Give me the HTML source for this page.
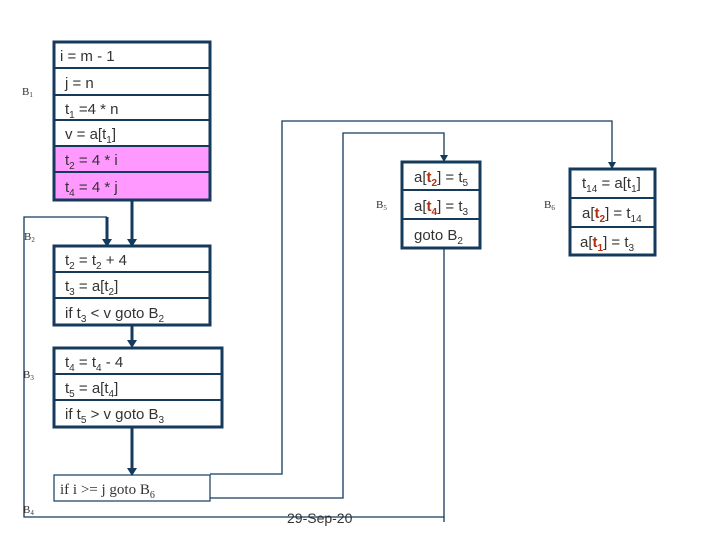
<!DOCTYPE html>
<html><head><style>
body{margin:0;background:#fff;}
svg text{font-family:"Liberation Sans",Arial,sans-serif;fill:#333;}
.s{font-family:"Liberation Serif",serif !important;}
</style></head><body>
<svg width="720" height="540" xmlns="http://www.w3.org/2000/svg">
<defs><marker id="a" markerWidth="8" markerHeight="8" refX="4" refY="7" orient="auto" markerUnits="userSpaceOnUse"><path d="M0,0 L8,0 L4,8 z" fill="#143a5c" transform="rotate(-90 4 4)"/></marker></defs>
<g fill="none" stroke="#143a5c">
<!-- B1 -->
<rect x="146" y="0" width="0" height="0"/>
<rect x="54" y="146" width="156" height="54" fill="#ff99ff" stroke="none"/>
<rect x="54" y="42" width="156" height="158" stroke-width="3"/>
<path d="M54 68H210M54 95H210M54 120H210M54 146H210M54 172H210" stroke-width="2"/>
<!-- B2 -->
<rect x="54" y="246" width="156" height="79" stroke-width="3"/>
<path d="M54 272H210M54 298H210" stroke-width="2"/>
<!-- B3 -->
<rect x="54" y="348" width="168" height="79" stroke-width="3"/>
<path d="M54 374H222M54 400H222" stroke-width="2"/>
<!-- B4 -->
<rect x="54" y="475" width="156" height="26" stroke-width="1.2"/>
<!-- B5 -->
<rect x="402" y="162" width="78" height="86" stroke-width="3"/>
<path d="M402 190H480M402 219H480" stroke-width="2"/>
<!-- B6 -->
<rect x="570" y="169" width="85" height="86" stroke-width="3"/>
<path d="M570 198H655M570 227H655" stroke-width="2"/>
<!-- arrows thick -->
<g stroke-width="3">
<path d="M132 200V240"/><path d="M132 325V341"/><path d="M132 427V469"/>
<path d="M107 217V240"/>
</g>
<g stroke-width="1.3">
<path d="M107 217H24V517H444V248"/>
<path d="M444 517V522"/>
<path d="M210 474H282V121H612V163"/>
<path d="M210 498H343V133H444V156"/>
</g>
</g>
<g fill="#143a5c">
<path d="M127 239H137L132 247Z"/><path d="M127 340H137L132 348Z"/><path d="M127 468H137L132 476Z"/>
<path d="M102 239H112L107 247Z"/>
<path d="M440 155H448L444 162Z"/><path d="M608 162H616L612 169Z"/>
</g>
<g font-size="15">
<text x="60" y="61">i = m - 1</text>
<text x="65" y="88">j = n</text>
<text x="65" y="114">t<tspan font-size="10" dy="4">1</tspan><tspan dy="-4"> =4 *  n</tspan></text>
<text x="65" y="139">v = a[t<tspan font-size="10" dy="4">1</tspan><tspan dy="-4">]</tspan></text>
<text x="65" y="165">t<tspan font-size="10" dy="4">2</tspan><tspan dy="-4"> = 4 *  i</tspan></text>
<text x="65" y="192">t<tspan font-size="10" dy="4">4</tspan><tspan dy="-4"> = 4 * j</tspan></text>
<text x="65" y="265">t<tspan font-size="10" dy="4">2</tspan><tspan dy="-4"> = t</tspan><tspan font-size="10" dy="4">2</tspan><tspan dy="-4"> + 4</tspan></text>
<text x="65" y="291">t<tspan font-size="10" dy="4">3</tspan><tspan dy="-4"> = a[t</tspan><tspan font-size="10" dy="4">2</tspan><tspan dy="-4">]</tspan></text>
<text x="65" y="318">if t<tspan font-size="10" dy="4">3</tspan><tspan dy="-4"> &lt; v goto B</tspan><tspan font-size="10" dy="4">2</tspan></text>
<text x="65" y="367">t<tspan font-size="10" dy="4">4</tspan><tspan dy="-4"> = t</tspan><tspan font-size="10" dy="4">4</tspan><tspan dy="-4"> - 4</tspan></text>
<text x="65" y="393">t<tspan font-size="10" dy="4">5</tspan><tspan dy="-4"> = a[t</tspan><tspan font-size="10" dy="4">4</tspan><tspan dy="-4">]</tspan></text>
<text x="65" y="419">if t<tspan font-size="10" dy="4">5</tspan><tspan dy="-4"> &gt; v goto B</tspan><tspan font-size="10" dy="4">3</tspan></text>
<text x="414" y="182">a[<tspan fill="#b03010" font-weight="bold">t</tspan><tspan fill="#b03010" font-weight="bold" font-size="10" dy="4">2</tspan><tspan dy="-4">] = t</tspan><tspan font-size="10" dy="4">5</tspan></text>
<text x="414" y="211">a[<tspan fill="#b03010" font-weight="bold">t</tspan><tspan fill="#b03010" font-weight="bold" font-size="10" dy="4">4</tspan><tspan dy="-4">] = t</tspan><tspan font-size="10" dy="4">3</tspan></text>
<text x="414" y="240">goto B<tspan font-size="10" dy="4">2</tspan></text>
<text x="582" y="188">t<tspan font-size="10" dy="4">14</tspan><tspan dy="-4"> = a[t</tspan><tspan font-size="10" dy="4">1</tspan><tspan dy="-4">]</tspan></text>
<text x="582" y="218">a[<tspan fill="#b03010" font-weight="bold">t</tspan><tspan fill="#b03010" font-weight="bold" font-size="10" dy="4">2</tspan><tspan dy="-4">] = t</tspan><tspan font-size="10" dy="4">14</tspan></text>
<text x="580" y="247">a[<tspan fill="#b03010" font-weight="bold">t</tspan><tspan fill="#b03010" font-weight="bold" font-size="10" dy="4">1</tspan><tspan dy="-4">] = t</tspan><tspan font-size="10" dy="4">3</tspan></text>
</g>
<text x="60" y="494" font-size="15" class="s">if i &gt;= j goto B<tspan font-size="10" dy="4">6</tspan></text>
<g font-size="11" class="s">
<text x="22" y="95" class="s">B<tspan font-size="7" dy="2">1</tspan></text>
<text x="24" y="240" class="s">B<tspan font-size="7" dy="2">2</tspan></text>
<text x="23" y="378" class="s">B<tspan font-size="7" dy="2">3</tspan></text>
<text x="23" y="513" class="s">B<tspan font-size="7" dy="2">4</tspan></text>
<text x="376" y="208" class="s">B<tspan font-size="7" dy="2">5</tspan></text>
<text x="544" y="208" class="s">B<tspan font-size="7" dy="2">6</tspan></text>
</g>
<text x="287" y="523" font-size="14">29-Sep-20</text>
</svg>
</body></html>
